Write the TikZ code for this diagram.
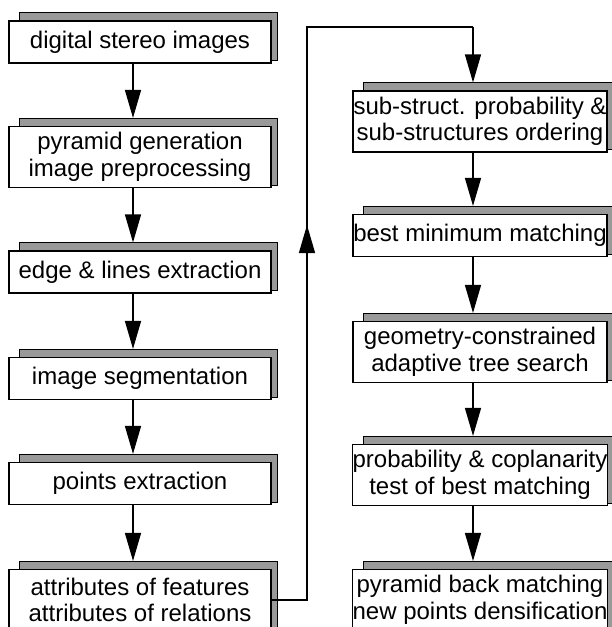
\documentclass[tikz,border=0pt]{standalone}
\usepackage{fontspec}
\setmainfont{Liberation Sans}
\usetikzlibrary{arrows.meta,backgrounds}

\tikzset{
  stepbox/.style={draw=black, line width=1.1pt, fill=white, inner sep=0pt,
    align=center, font=\fontsize{24}{26.5}\selectfont},
  lbox/.style={stepbox, minimum width=262pt},
  rbox/.style={stepbox, minimum width=254pt},
  onel/.style={minimum height=42pt},
  twol/.style={minimum height=61pt},
  shade/.style={draw=black, line width=0.8pt, fill=black!40},
  link/.style={draw=black, line width=1.3pt},
  flow/.style={link, -{Triangle[length=28pt,width=16pt]}},
}

% drop shadow behind a box: offset up and to the right
\newcommand{\boxshade}[1]{%
  \begin{scope}[on background layer]
    \path[shade] ([xshift=11pt,yshift=8pt]#1.north west) rectangle ([xshift=6pt,yshift=3pt]#1.south east);
  \end{scope}}

\begin{document}
\begin{tikzpicture}[x=1pt,y=-1pt]
\useasboundingbox (0,0) rectangle (612,627);

% left column
\node[lbox,onel] (b1) at (140,42)    {digital stereo images};
\node[lbox,twol] (b2) at (140,157)   {pyramid generation\\image preprocessing};
\node[lbox,onel] (b3) at (140,272)   {edge \& lines extraction};
\node[lbox,onel] (b4) at (140,378.5) {image segmentation};
\node[lbox,onel] (b5) at (140,483.5) {points extraction};
\node[lbox,twol] (b6) at (140,600)   {attributes of features\\attributes of relations};

% right column
\node[rbox,twol] (r1) at (480,121.5) {sub-struct. probability \&\\sub-structures ordering};
\node[rbox,onel] (r2) at (480,235.5) {best minimum matching};
\node[rbox,twol] (r3) at (480,352)   {geometry-constrained\\adaptive tree search};
\node[rbox,twol] (r4) at (480,475)   {probability \& coplanarity\\test of best matching};
\node[rbox,twol] (r5) at (480,600)   {pyramid back matching\\new points densification};

\foreach \n in {b1,b2,b3,b4,b5,b6,r1,r2,r3,r4,r5} {\boxshade{\n}}

% shadow tops, where the arrows end
\foreach \n in {b2,b3,b4,b5,b6,r1,r2,r3,r4,r5}
  \coordinate (\n-in) at ([xshift=-7pt,yshift=8pt]\n.north);

% arrows down each column
\foreach \a/\b in {b1/b2,b2/b3,b3/b4,b4/b5,b5/b6,r1/r2,r2/r3,r3/r4,r4/r5}
  \draw[flow] ([xshift=-7pt]\a.south) -- (\b-in);

% feedback from the last left box to the top of the right column
\coordinate (rise) at (307,27);
\coordinate (over) at (473,27);
\coordinate (uptip) at (307,225);
\draw[link] (b6.east) -| (rise) -- (over);
\draw[flow] (over) -- (r1-in);
\draw[flow] (b6.east -| rise) -- (uptip);
\end{tikzpicture}
\end{document}
